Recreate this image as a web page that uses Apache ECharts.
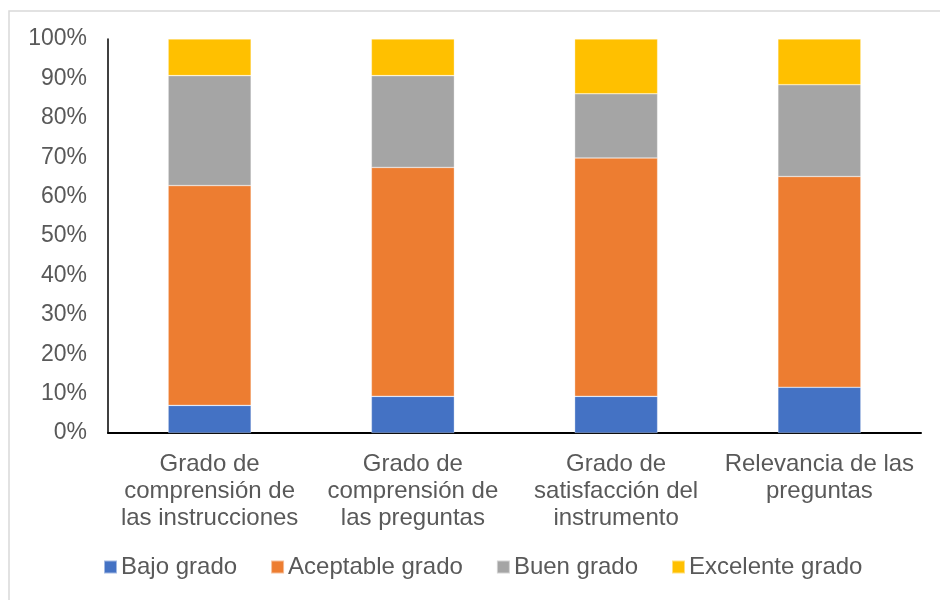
<!DOCTYPE html>
<html>
<head>
<meta charset="utf-8">
<script src="https://cdn.jsdelivr.net/npm/echarts@6/dist/echarts.min.js"></script>
<style>
html,body{margin:0;padding:0;background:#fff;}
#c{width:940px;height:600px;}
</style>
</head>
<body>
<div id="c"></div>
<script>
const categories = [
  'Grado de\ncomprensión de\nlas instrucciones',
  'Grado de\ncomprensión de\nlas preguntas',
  'Grado de\nsatisfacción del\ninstrumento',
  'Relevancia de las\npreguntas'
];
const seriesNames = ['Bajo grado', 'Aceptable grado', 'Buen grado', 'Excelente grado'];
const bajo = [7.0, 9.3, 9.3, 11.6];
const aceptable = [55.8, 58.1, 60.5, 53.5];
const buen = [27.9, 23.3, 16.3, 23.3];
const excelente = [9.3, 9.3, 13.9, 11.6];
const yTicks = [0, 10, 20, 30, 40, 50, 60, 70, 80, 90, 100];

const colors = ['#4472C4', '#ED7D31', '#A5A5A5', '#FFC000'];
const values = [bajo, aceptable, buen, excelente];
const font = '"Liberation Sans", Arial, sans-serif';

const chart = echarts.init(document.getElementById('c'), null, {renderer: 'canvas'});
chart.setOption({
  animation: false,
  backgroundColor: '#fff',
  color: colors,
  graphic: [{
    type: 'rect',
    shape: {x: 9, y: 11, width: 960, height: 620},
    style: {fill: 'none', stroke: '#d9d9d9', lineWidth: 1.5},
    silent: true,
    z: -1
  }],
  grid: {left: 108, right: 19, top: 39, bottom: 167},
  legend: {
    data: seriesNames,
    left: 103,
    top: 555,
    padding: 0,
    itemGap: 33,
    itemWidth: 13,
    itemHeight: 13,
    icon: 'rect',
    textStyle: {fontSize: 24, color: '#595959', fontFamily: font, padding: [0, 0, 0, -1]}
  },
  xAxis: {
    type: 'category',
    data: categories,
    axisLine: {show: true, lineStyle: {color: '#000', width: 2}},
    axisTick: {show: false},
    axisLabel: {fontSize: 24, color: '#595959', fontFamily: font, lineHeight: 27, margin: 18, interval: 0}
  },
  yAxis: {
    type: 'value',
    min: 0,
    max: 100,
    interval: 10,
    axisLine: {show: true, lineStyle: {color: '#000', width: 1.5}},
    axisTick: {show: false},
    splitLine: {show: false},
    axisLabel: {
      fontSize: 23, color: '#595959', fontFamily: font, margin: 21,
      formatter: v => yTicks.includes(v) ? v + '%' : ''
    }
  },
  series: seriesNames.map((name, i) => ({
    name,
    type: 'bar',
    stack: 'total',
    barWidth: 83,
    data: values[i],
    itemStyle: {color: colors[i], borderColor: 'rgba(255,255,255,0.5)', borderWidth: 0.6}
  }))
});
</script>
</body>
</html>
